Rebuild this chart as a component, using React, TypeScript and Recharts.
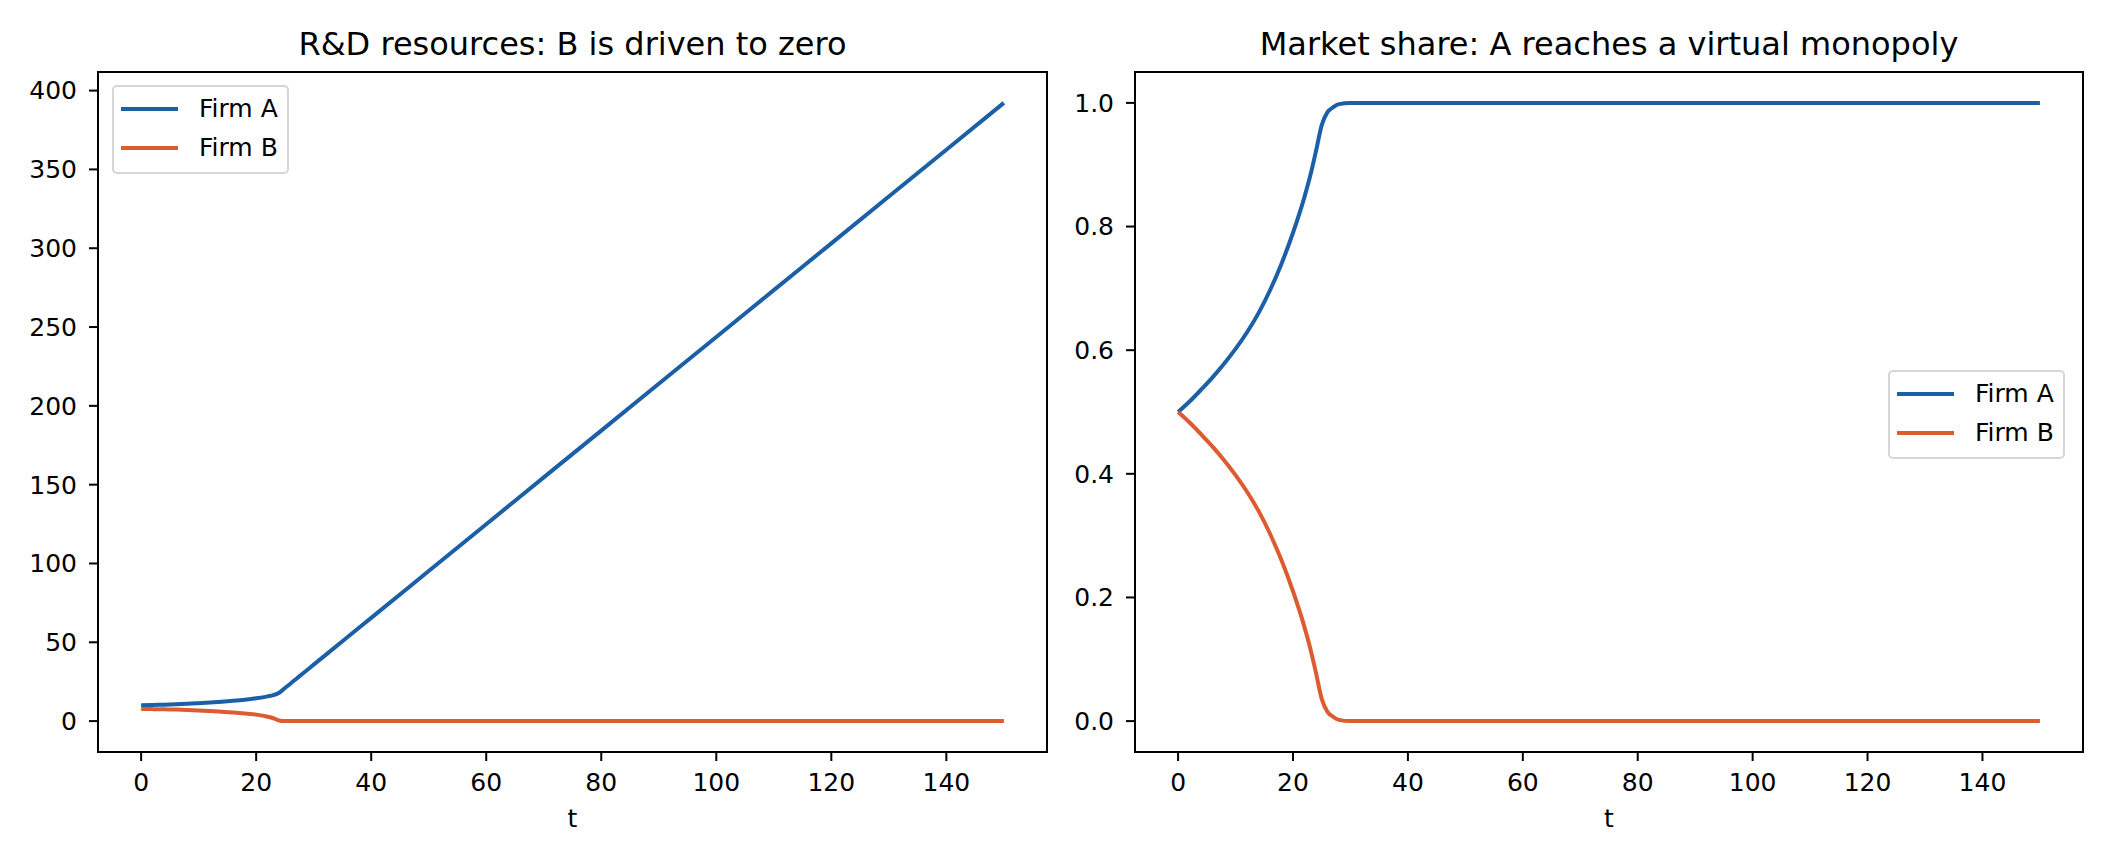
import React from 'react';
import { LineChart, Line, XAxis, YAxis, Legend, ReferenceArea } from 'recharts';

const tValues = [0, 2, 4, 6, 8, 10, 12, 14, 16, 18, 20, 22, 23, 24, 25, 26, 27, 28, 30, 35, 40, 50, 60, 70, 80, 90, 100, 110, 120, 130, 140, 150];

// R&D resources
const rdFirmA = [10.0, 10.2, 10.4, 10.7, 11.0, 11.4, 11.8, 12.3, 12.9, 13.6, 14.5, 15.7, 16.5, 18.0, 21.0, 23.9, 26.9, 29.9, 35.8, 50.7, 65.5, 95.2, 124.9, 154.6, 184.3, 214.0, 243.7, 273.4, 303.1, 332.8, 362.5, 392.2];
const rdFirmB = [7.7, 7.6, 7.5, 7.3, 7.1, 6.8, 6.4, 6.0, 5.4, 4.8, 4.1, 2.8, 1.8, 0.4, 0, 0, 0, 0, 0, 0, 0, 0, 0, 0, 0, 0, 0, 0, 0, 0, 0, 0];

// market share
const shareFirmA = [0.5, 0.517, 0.536, 0.556, 0.578, 0.602, 0.629, 0.66, 0.697, 0.74, 0.79, 0.848, 0.882, 0.922, 0.964, 0.985, 0.993, 0.998, 1.0, 1.0, 1.0, 1.0, 1.0, 1.0, 1.0, 1.0, 1.0, 1.0, 1.0, 1.0, 1.0, 1.0];
const shareFirmB = [0.5, 0.483, 0.464, 0.444, 0.422, 0.398, 0.371, 0.34, 0.303, 0.26, 0.21, 0.152, 0.118, 0.078, 0.036, 0.015, 0.007, 0.002, 0, 0, 0, 0, 0, 0, 0, 0, 0, 0, 0, 0, 0, 0];

const xTicks = [0, 20, 40, 60, 80, 100, 120, 140];
const rdTicks = [0, 50, 100, 150, 200, 250, 300, 350, 400];
const shareTicks = [0, 0.2, 0.4, 0.6, 0.8, 1.0];

const rdData = tValues.map((t, i) => ({ t, a: rdFirmA[i], b: rdFirmB[i] }));
const shareData = tValues.map((t, i) => ({ t, a: shareFirmA[i], b: shareFirmB[i] }));

const BLUE = '#1b5fa6';
const ORANGE = '#dd5b31';
const FONT = '"DejaVu Sans", sans-serif';
const FS = 25;

const X_DOMAIN: [number, number] = [-7.5, 157.5];
const RD_DOMAIN: [number, number] = [-19.6, 411.8];
const SHARE_DOMAIN: [number, number] = [-0.05, 1.05];

const tickStyle = { fill: '#000', fontSize: FS, fontFamily: FONT };
const blackLine = { stroke: '#000', strokeWidth: 2 };

const LegendBox = () => (
  <div
    style={{
      background: 'rgba(255,255,255,0.8)',
      border: '2px solid #d6d6d6',
      borderRadius: 5,
      padding: '2px 9px 5px 7px',
      fontFamily: FONT,
      fontSize: FS,
      color: '#000',
    }}
  >
    {[
      { label: 'Firm A', color: BLUE },
      { label: 'Firm B', color: ORANGE },
    ].map((it) => (
      <div key={it.label} style={{ display: 'flex', alignItems: 'center', height: 39 }}>
        <span style={{ display: 'inline-block', width: 57, height: 4, background: it.color, marginRight: 21 }} />
        <span style={{ whiteSpace: 'nowrap' }}>{it.label}</span>
      </div>
    ))}
  </div>
);

const Title = ({ text, left, width }: { text: string; left: number; width: number }) => (
  <div
    style={{
      position: 'absolute',
      left,
      width,
      top: 27,
      textAlign: 'center',
      fontFamily: FONT,
      fontSize: 32,
      lineHeight: '34px',
      color: '#000',
      whiteSpace: 'nowrap',
    }}
  >
    {text}
  </div>
);

export default function App() {
  return (
    <div style={{ position: 'absolute', left: 0, top: 0, width: 2112, height: 864, background: '#fff', overflow: 'hidden' }}>
      <Title text="R&D resources: B is driven to zero" left={98} width={949} />
      <Title text="Market share: A reaches a virtual monopoly" left={1135} width={948} />

      <div style={{ position: 'absolute', left: 0, top: 0 }}>
        <LineChart width={1070} height={864} data={rdData} margin={{ top: 72, right: 23, bottom: 0, left: 0 }}>
          <XAxis
            dataKey="t"
            type="number"
            domain={X_DOMAIN}
            ticks={xTicks}
            height={112}
            tick={tickStyle}
            tickLine={blackLine}
            axisLine={blackLine}
            tickSize={9}
            tickMargin={12}
            label={{ value: 't', position: 'insideBottom', offset: 37, fill: '#000', fontSize: FS, fontFamily: FONT }}
          />
          <YAxis
            type="number"
            domain={RD_DOMAIN}
            ticks={rdTicks}
            width={98}
            tick={tickStyle}
            tickLine={blackLine}
            axisLine={blackLine}
            tickSize={9}
            tickMargin={12}
            allowDataOverflow
          />
          <Line type="monotone" dataKey="a" stroke={BLUE} strokeWidth={4} dot={false} isAnimationActive={false} />
          <Line type="monotone" dataKey="b" stroke={ORANGE} strokeWidth={4} dot={false} isAnimationActive={false} />
          <ReferenceArea x1={X_DOMAIN[0]} x2={X_DOMAIN[1]} y1={RD_DOMAIN[0]} y2={RD_DOMAIN[1]} fill="none" stroke="#000" strokeWidth={2} ifOverflow="visible" />
          <Legend
            layout="vertical"
            align="center"
            verticalAlign="middle"
            wrapperStyle={{ left: 112, top: 85, width: 'auto', height: 'auto' }}
            content={() => <LegendBox />}
          />
        </LineChart>
      </div>

      <div style={{ position: 'absolute', left: 1070, top: 0 }}>
        <LineChart width={1042} height={864} data={shareData} margin={{ top: 72, right: 29, bottom: 0, left: 0 }}>
          <XAxis
            dataKey="t"
            type="number"
            domain={X_DOMAIN}
            ticks={xTicks}
            height={112}
            tick={tickStyle}
            tickLine={blackLine}
            axisLine={blackLine}
            tickSize={9}
            tickMargin={12}
            label={{ value: 't', position: 'insideBottom', offset: 37, fill: '#000', fontSize: FS, fontFamily: FONT }}
          />
          <YAxis
            type="number"
            domain={SHARE_DOMAIN}
            ticks={shareTicks}
            width={65}
            tick={tickStyle}
            tickLine={blackLine}
            axisLine={blackLine}
            tickSize={9}
            tickMargin={12}
            tickFormatter={(v: number) => v.toFixed(1)}
            allowDataOverflow
          />
          <Line type="monotone" dataKey="a" stroke={BLUE} strokeWidth={4} dot={false} isAnimationActive={false} />
          <Line type="monotone" dataKey="b" stroke={ORANGE} strokeWidth={4} dot={false} isAnimationActive={false} />
          <ReferenceArea x1={X_DOMAIN[0]} x2={X_DOMAIN[1]} y1={SHARE_DOMAIN[0]} y2={SHARE_DOMAIN[1]} fill="none" stroke="#000" strokeWidth={2} ifOverflow="visible" />
          <Legend
            layout="vertical"
            align="center"
            verticalAlign="middle"
            wrapperStyle={{ left: 818, top: 370, width: 'auto', height: 'auto' }}
            content={() => <LegendBox />}
          />
        </LineChart>
      </div>
    </div>
  );
}
